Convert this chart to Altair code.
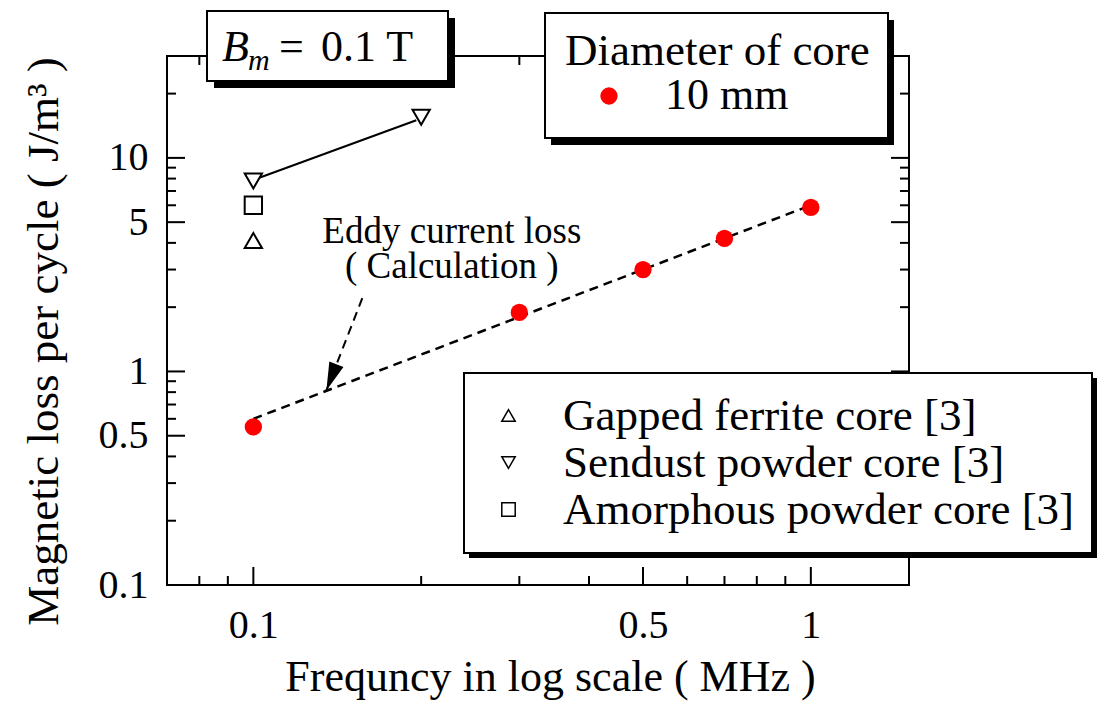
import altair as alt
import pandas as pd

FONT = "Liberation Serif"

# ---------------- data ----------------
freq_10mm = [0.1, 0.3, 0.5, 0.7, 1.0]
loss_10mm = [0.55, 1.89, 3.0, 4.2, 5.86]
diam_label = "10 mm"

calc_freq = [0.1, 1.0]
calc_loss = [0.6, 6.0]

core_order = ["Gapped ferrite core [3]", "Sendust powder core [3]", "Amorphous powder core [3]"]
core_shapes = ["triangle-up", "triangle-down", "square"]
ref_core = ["Gapped ferrite core [3]", "Sendust powder core [3]",
            "Amorphous powder core [3]", "Sendust powder core [3]"]
ref_freq = [0.1, 0.1, 0.1, 0.2]
ref_loss = [4.1, 7.8, 6.0, 15.5]

link_freq = [0.1025, 0.196]
link_loss = [8.07, 15.0]

arrow_freq = [0.157, 0.1352]
arrow_loss = [2.22, 0.815]
arrow_tip_freq = [0.1352]
arrow_tip_loss = [0.815]

note_text = ["Eddy current loss", "( Calculation )"]
note_freq = [0.227, 0.227]
note_loss = [4.01, 2.75]

x_labels = [0.1, 0.5, 1]
y_labels = [0.1, 0.5, 1, 5, 10]
x_major = [0.1, 0.5, 1]
x_minor = [0.08, 0.09, 0.2, 0.3, 0.4, 0.6, 0.7, 0.8, 0.9]
y_major = [0.1, 0.5, 1, 5, 10]
y_minor = [0.2, 0.3, 0.4, 0.6, 0.7, 0.8, 0.9, 2, 3, 4, 6, 7, 8, 9, 20]

# ---------------- layout ----------------
W, H = 742, 529
MAJ, MIN = 18, 9

xs = alt.Scale(type="log", domain=[0.07, 1.5], nice=False)
ys = alt.Scale(type="log", domain=[0.1, 30], nice=False)

xaxis = alt.Axis(values=x_labels, format="~g", title="Frequncy in log scale ( MHz )",
                 ticks=False, tickSize=0, domain=False, grid=False,
                 labelFont=FONT, labelFontSize=40, labelColor="black", labelPadding=20,
                 labelFlush=False, labelOverlap=False,
                 titleFont=FONT, titleFontSize=44, titleFontWeight="normal", titleColor="black",
                 titleX=383, titleY=105, titleBaseline="alphabetic", titleAlign="center",
                 titleLimit=1000)
yaxis = alt.Axis(values=y_labels, format="~g", title="Magnetic loss per cycle ( J/m³ )",
                 ticks=False, tickSize=0, domain=False, grid=False,
                 labelFont=FONT, labelFontSize=40, labelColor="black", labelPadding=19,
                 labelOverlap=False,
                 titleFont=FONT, titleFontSize=45, titleFontWeight="normal", titleColor="black",
                 titleX=-110, titleY=285, titleAngle=270, titleBaseline="alphabetic",
                 titleAlign="center", titleLimit=1000)

legend_diam = alt.Legend(orient="none", legendX=398, legendY=-27, padding=0,
                         title="Diameter of core", titleFont=FONT, titleFontSize=45,
                         titleFontWeight="normal", titleColor="black", titleLimit=1000,
                         titlePadding=0,
                         labelFont=FONT, labelFontSize=44, labelColor="black", labelLimit=1000,
                         labelOffset=34, symbolOffset=22, symbolSize=300, symbolType="circle",
                         symbolOpacity=1)
legend_core = alt.Legend(orient="none", legendX=319, legendY=337, padding=0, title=None,
                         labelFont=FONT, labelFontSize=45, labelColor="black", labelLimit=1000,
                         labelOffset=32, symbolSize=180, symbolOffset=0,
                         symbolStrokeWidth=1.5, rowPadding=1)

X = lambda f: alt.X(f, scale=xs, axis=xaxis)
Y = lambda f: alt.Y(f, scale=ys, axis=yaxis)

one = alt.Data(values=[{"k": 0}])


def xticks(values, length, top):
    y0, y1 = (0, length) if top else (H, H - length)
    return alt.Chart(pd.DataFrame({"f": values})).mark_rule(color="black", strokeWidth=2).encode(
        x=X("f:Q"), y=alt.value(y0), y2=alt.value(y1))


def yticks(values, length, right):
    x0, x1 = (W, W - length) if right else (0, length)
    return alt.Chart(pd.DataFrame({"l": values})).mark_rule(color="black", strokeWidth=2).encode(
        y=Y("l:Q"), x=alt.value(x0), x2=alt.value(x1))


def box(x0, x1, y0, y1, dx, dy):
    shadow = alt.Chart(one).mark_rect(fill="black").encode(
        x=alt.value(x0 + dx), x2=alt.value(x1 + dx), y=alt.value(y0 + dy), y2=alt.value(y1 + dy))
    face = alt.Chart(one).mark_rect(fill="white", stroke="black", strokeWidth=2).encode(
        x=alt.value(x0), x2=alt.value(x1), y=alt.value(y0), y2=alt.value(y1))
    return [shadow, face]


ticks = [xticks(x_major, MAJ, False), xticks(x_minor, MIN, False),
         xticks(x_major, MAJ, True), xticks(x_minor, MIN, True),
         yticks(y_major, MAJ, False), yticks(y_minor, MIN, False),
         yticks(y_major, MAJ, True), yticks(y_minor, MIN, True)]

main = alt.Chart(pd.DataFrame({"f": freq_10mm, "l": loss_10mm, "d": [diam_label] * len(freq_10mm)})
                 ).mark_circle(size=300, opacity=1).encode(
    x=X("f:Q"), y=Y("l:Q"),
    color=alt.Color("d:N", scale=alt.Scale(domain=[diam_label], range=["#ff0000"]),
                    legend=legend_diam))

fit = alt.Chart(pd.DataFrame({"f": calc_freq, "l": calc_loss})).mark_line(
    color="black", strokeDash=[9, 6], strokeWidth=2.5).encode(x=X("f:Q"), y=Y("l:Q"))

link = alt.Chart(pd.DataFrame({"f": link_freq, "l": link_loss})).mark_line(
    color="black", strokeWidth=2).encode(x=X("f:Q"), y=Y("l:Q"))

shaft = alt.Chart(pd.DataFrame({"f": arrow_freq, "l": arrow_loss})).mark_line(
    color="black", strokeDash=[9, 6], strokeWidth=2).encode(x=X("f:Q"), y=Y("l:Q"))

head = alt.Chart(pd.DataFrame({"f": arrow_tip_freq, "l": arrow_tip_loss})).mark_point(
    shape="M0,0 L-0.27,-1 L0.27,-1 Z", size=3136, angle=21, filled=True,
    fill="black", strokeWidth=0, opacity=1).encode(x=X("f:Q"), y=Y("l:Q"))

refs = alt.Chart(pd.DataFrame({"f": ref_freq, "l": ref_loss, "c": ref_core})).mark_point(
    size=300, filled=False, color="black", strokeWidth=2, opacity=1).encode(
    x=X("f:Q"), y=Y("l:Q"),
    shape=alt.Shape("c:N", scale=alt.Scale(domain=core_order, range=core_shapes),
                    legend=legend_core))

note = alt.Chart(pd.DataFrame({"f": note_freq, "l": note_loss, "t": note_text})).mark_text(
    font=FONT, fontSize=37, align="center", baseline="alphabetic", color="black").encode(
    x=X("f:Q"), y=Y("l:Q"), text="t:N")

boxes = box(40, 281, -45, 25, 7, 7) + box(378, 721, -43, 82, 6, 7) + box(297, 925, 317, 497, 5, 5)


def label(txt, x, y, size, style="normal"):
    return alt.Chart(one).mark_text(font=FONT, fontSize=size, fontStyle=style, align="left",
                                    baseline="alphabetic", color="black").encode(
        x=alt.value(x), y=alt.value(y), text=alt.value(txt))


bm = [label("B", 55, 5, 44, "italic"), label("m", 81, 14, 30, "italic"),
      label("=", 112, 5, 44), label("0.1 T", 154, 5, 44)]

chart = alt.layer(
    *ticks, fit, link, shaft, head, main, refs, note, *boxes, *bm
).properties(
    width=W, height=H,
    autosize=alt.AutoSizeParams(type="none"),
    padding={"left": 167, "top": 56, "right": 188, "bottom": 119},
).configure(
    font=FONT, background="white"
).configure_view(
    stroke="black", strokeWidth=2
)

chart.save("out.html", embed_options={"renderer": "svg", "actions": False})
